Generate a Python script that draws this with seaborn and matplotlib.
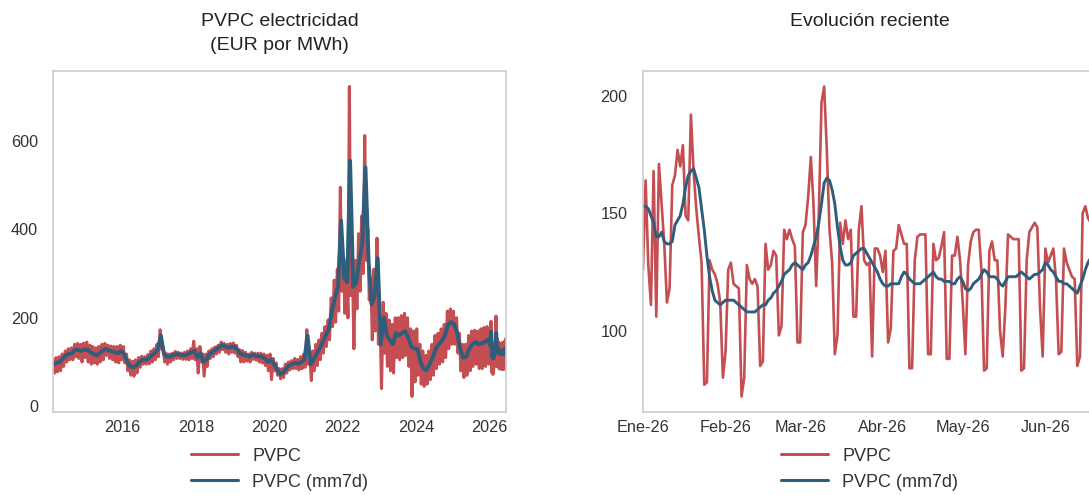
# PVPC electricidad: serie larga + evolucion reciente
import pandas as pd
import numpy as np
import seaborn as sns
import matplotlib.pyplot as plt
import matplotlib.dates as mdates
from matplotlib.ticker import MultipleLocator, FuncFormatter

# ---- data ----
# monthly values Feb-2014 .. Dec-2025 (mm7d level, upper and lower edge of the daily band)
hist_mm7d = [
    95, 98, 100, 108, 115, 118, 120, 128, 127, 125, 128,                 # 2014 (Feb-Dec)
    128, 122, 118, 115, 120, 125, 130, 126, 124, 122, 120, 125,          # 2015
    118, 100, 90, 88, 92, 100, 105, 105, 108, 115, 120, 128,             # 2016
    160, 118, 112, 112, 115, 118, 117, 115, 116, 118, 122, 125,          # 2017
    110, 120, 100, 105, 118, 122, 128, 132, 138, 136, 132, 134,          # 2018
    135, 128, 118, 117, 115, 112, 117, 114, 113, 112, 108, 100,          # 2019
    105, 95, 85, 73, 75, 85, 92, 95, 98, 96, 100, 105,                   # 2020
    160, 95, 105, 118, 130, 145, 160, 175, 215, 245, 270, 420,           # 2021
    290, 280, 555, 270, 280, 330, 370, 540, 330, 230, 250, 335,          # 2022
    140, 200, 160, 150, 140, 165, 160, 165, 170, 155, 135, 130,          # 2023
    130, 100, 85, 82, 95, 110, 130, 140, 148, 160, 185, 190,             # 2024
    185, 165, 130, 110, 112, 130, 140, 145, 140, 142, 145, 150,          # 2025
]
hist_hi = [
    105, 110, 112, 118, 125, 130, 132, 140, 142, 140, 143,
    145, 138, 135, 132, 135, 140, 142, 138, 136, 135, 135, 138,
    135, 118, 105, 102, 105, 110, 113, 112, 117, 125, 130, 140,
    173, 130, 120, 118, 120, 124, 122, 120, 122, 125, 130, 147,
    130, 135, 118, 118, 125, 130, 134, 138, 145, 142, 140, 142,
    143, 138, 128, 126, 122, 118, 122, 120, 120, 120, 118, 115,
    118, 108, 98, 85, 85, 95, 100, 103, 108, 106, 112, 118,
    173, 110, 125, 140, 150, 165, 180, 195, 245, 285, 310, 495,
    340, 330, 723, 310, 330, 390, 430, 612, 400, 290, 310, 380,
    190, 235, 210, 195, 185, 200, 200, 205, 210, 200, 175, 170,
    175, 140, 125, 115, 125, 140, 160, 165, 175, 185, 215, 220,
    215, 200, 165, 140, 140, 160, 170, 172, 170, 175, 178, 180,
]
hist_lo = [
    75, 78, 80, 90, 100, 105, 105, 112, 108, 100, 110,
    100, 95, 98, 95, 100, 105, 115, 108, 105, 100, 98, 105,
    98, 80, 70, 68, 75, 88, 95, 95, 96, 100, 105, 112,
    130, 100, 95, 100, 105, 108, 108, 106, 106, 105, 108, 105,
    75, 100, 68, 90, 108, 112, 118, 122, 128, 122, 118, 122,
    120, 112, 100, 100, 102, 100, 106, 104, 100, 98, 92, 80,
    60, 80, 70, 62, 65, 75, 82, 85, 85, 82, 85, 88,
    95, 58, 80, 92, 105, 120, 135, 150, 180, 190, 215, 260,
    210, 200, 250, 130, 220, 260, 300, 330, 240, 150, 170, 140,
    40, 120, 90, 80, 75, 110, 105, 110, 115, 90, 22, 55,
    70, 50, 45, 50, 60, 70, 85, 95, 100, 110, 130, 140,
    140, 120, 80, 65, 70, 80, 90, 95, 85, 85, 90, 95,
]

# daily values 1-Jan-2026 .. 20-Jun-2026
pvpc_2026 = [
    126, 164, 128, 111, 168, 106, 171, 154, 137, 112, 118, 162, 166, 177, 170, 179,
    149, 147, 192, 168, 152, 140, 129, 77, 78, 130, 126, 124, 120, 112, 80,          # Ene
    91, 126, 129, 120, 119, 118, 72, 80, 128, 122, 120, 122, 119, 85, 87, 137,
    126, 128, 134, 132, 98, 102, 143, 139, 143, 139, 136, 95,                        # Feb
    95, 142, 145, 157, 174, 154, 119, 150, 197, 204, 177, 143, 129, 90, 98, 146,
    137, 147, 139, 143, 106, 106, 143, 153, 130, 128, 129, 89, 135, 135, 132,        # Mar
    125, 134, 95, 101, 134, 135, 145, 141, 137, 137, 84, 84, 130, 140, 141,
    141, 141, 90, 90, 137, 130, 131, 136, 142, 88, 88, 132, 132, 140, 130,           # Abr
    112, 90, 128, 138, 142, 143, 143, 126, 83, 84, 134, 138, 130, 130, 100, 89,
    110, 141, 140, 139, 139, 139, 83, 84, 130, 142, 144, 146, 144, 110, 89,          # May
    135, 129, 132, 135, 122, 90, 91, 135, 129, 126, 123, 122, 85, 89, 150,
    153, 148, 146, 140, 118,                                                         # Jun
]
mm7d_2026 = [
    153, 153, 152, 149, 146, 140, 140, 142, 138, 137, 137, 138, 145, 147, 149, 154,
    161, 166, 168, 169, 165, 161, 152, 143, 132, 123, 117, 113, 112, 111, 112,
    113, 113, 113, 113, 112, 111, 110, 109, 108, 108, 108, 108, 109, 110, 111, 111,
    113, 114, 116, 117, 119, 121, 124, 125, 126, 128, 129, 128,
    127, 126, 128, 129, 132, 136, 140, 146, 154, 163, 165, 164, 160, 154, 144, 136,
    130, 128, 128, 129, 132, 133, 134, 135, 135, 133, 131, 129, 127, 125, 122,
    120, 119, 119, 120, 120, 120, 120, 123, 125, 124, 122, 121, 120, 120, 120,
    121, 122, 123, 124, 125, 123, 122, 122, 121, 121, 121, 120, 120, 122, 123,
    121, 118, 117, 118, 120, 121, 122, 124, 126, 125, 123, 123, 123, 122, 120, 119,
    121, 123, 123, 123, 123, 124, 125, 124, 123, 122, 123, 124, 124, 125, 126,
    129, 128, 126, 125, 123, 121, 121, 120, 120, 119, 118, 117, 116, 119, 122,
    126, 129, 131, 133, 132,
]

meses = ['Ene', 'Feb', 'Mar', 'Abr', 'May', 'Jun', 'Jul', 'Ago', 'Sep', 'Oct', 'Nov', 'Dic']
series_names = ['PVPC', 'PVPC (mm7d)']
colors = ['#C44E52', '#2F5D7C']

# ---- build tables ----
months = pd.date_range('2014-02-01', '2025-12-01', freq='MS')
days_2026 = pd.date_range('2026-01-01', periods=len(pvpc_2026), freq='D')

red_df = pd.concat([
    pd.DataFrame({'fecha': months + pd.Timedelta(days=9), 'valor': hist_hi}),
    pd.DataFrame({'fecha': months + pd.Timedelta(days=23), 'valor': hist_lo}),
    pd.DataFrame({'fecha': days_2026, 'valor': pvpc_2026}),
]).sort_values('fecha').reset_index(drop=True)

blue_df = pd.concat([
    pd.DataFrame({'fecha': months + pd.Timedelta(days=16), 'valor': hist_mm7d}),
    pd.DataFrame({'fecha': days_2026, 'valor': mm7d_2026}),
]).sort_values('fecha').reset_index(drop=True)

recent = pd.DataFrame({'fecha': days_2026, 'pvpc': pvpc_2026, 'mm7d': mm7d_2026})

# ---- style ----
sns.set_style('white')
plt.rcParams['font.family'] = ['Liberation Sans', 'DejaVu Sans']

fig = plt.figure(figsize=(10.89, 4.95), dpi=100)
ax1 = fig.add_axes([0.0489, 0.1677, 0.416, 0.6889])
ax2 = fig.add_axes([0.5904, 0.1677, 0.416, 0.6889])

# left: full history
sns.lineplot(data=red_df, x='fecha', y='valor', color=colors[0], lw=2.2,
             label=series_names[0], estimator=None, ax=ax1)
sns.lineplot(data=blue_df, x='fecha', y='valor', color=colors[1], lw=2.8,
             label=series_names[1], estimator=None, ax=ax1)
ax1.set_xlim(red_df['fecha'].iloc[0], red_df['fecha'].iloc[-1])
ax1.yaxis.set_major_locator(MultipleLocator(200))
ax1.xaxis.set_major_locator(mdates.YearLocator(2))
ax1.xaxis.set_major_formatter(mdates.DateFormatter('%Y'))

# right: recent months
sns.lineplot(data=recent, x='fecha', y='pvpc', color=colors[0], lw=1.9,
             label=series_names[0], ax=ax2)
sns.lineplot(data=recent, x='fecha', y='mm7d', color=colors[1], lw=2.1,
             label=series_names[1], ax=ax2)
ax2.set_xlim(recent['fecha'].iloc[0], recent['fecha'].iloc[-1])
ax2.yaxis.set_major_locator(MultipleLocator(50))
ax2.xaxis.set_major_locator(mdates.MonthLocator())


def mes_fmt(x, pos):
    d = mdates.num2date(x)
    return f"{meses[d.month - 1]}-{d:%y}"


ax2.xaxis.set_major_formatter(FuncFormatter(mes_fmt))

titles = ['PVPC electricidad\n(EUR por MWh)', 'Evolución reciente']
for ax, t in zip([ax1, ax2], titles):
    ax.set_xlabel('')
    ax.set_ylabel('')
    ax.set_title(t, fontsize=14, color='#222222', y=1.145, va='top', linespacing=1.5)
    ax.tick_params(axis='y', length=0, pad=11, labelsize=11.7, colors='#333333')
    ax.tick_params(axis='x', length=0, pad=5.5, labelsize=11.7, colors='#333333')
    for s in ax.spines.values():
        s.set_color('#cccccc')
        s.set_linewidth(1.2)
    leg = ax.legend(loc='upper center', bbox_to_anchor=(0.5, -0.057), frameon=False,
                    fontsize=13, handlelength=2.6, labelcolor='#333333')
    for h in leg.get_lines():
        h.set_linewidth(2.2)

fig.savefig('out.png', dpi=100)
